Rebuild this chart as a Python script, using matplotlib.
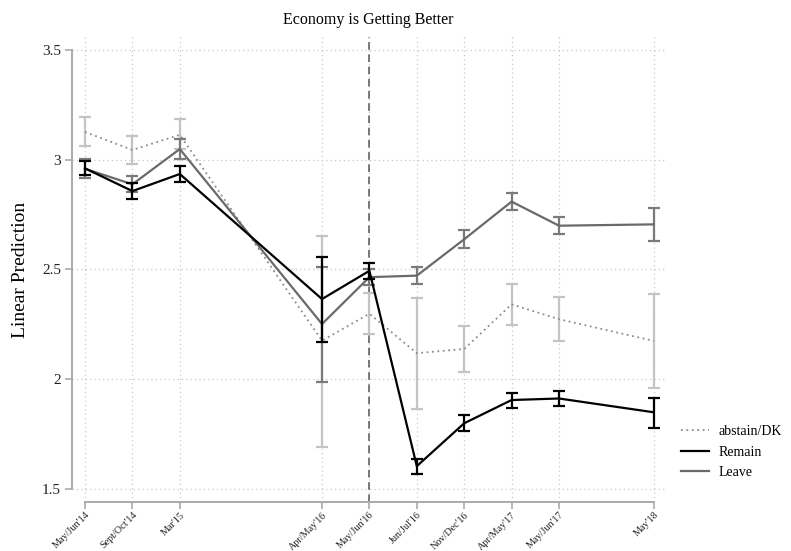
import matplotlib
matplotlib.use("Agg")
import matplotlib.pyplot as plt
import numpy as np

plt.rcParams['font.family'] = ['Liberation Serif', 'DejaVu Serif']

waves = [2, 3, 4, 7, 8, 9, 10, 11, 12, 14]
tick_labels = ["May/Jun'14", "Sept/Oct'14", "Mar'15", "Apr/May'16", "May/Jun'16",
               "Jun/Jul'16", "Nov/Dec'16", "Apr/May'17", "May/Jun'17", "May'18"]

abstain = [3.128, 3.046, 3.115, 2.175, 2.298, 2.118, 2.137, 2.341, 2.273, 2.174]
abstain_lo = [3.064, 2.980, 3.050, 1.689, 2.205, 1.864, 2.032, 2.247, 2.172, 1.960]
abstain_hi = [3.195, 3.110, 3.187, 2.653, 2.394, 2.371, 2.242, 2.434, 2.373, 2.387]

remain = [2.962, 2.858, 2.936, 2.365, 2.494, 1.602, 1.798, 1.904, 1.911, 1.848]
remain_lo = [2.930, 2.822, 2.900, 2.170, 2.458, 1.566, 1.764, 1.866, 1.877, 1.778]
remain_hi = [2.994, 2.894, 2.974, 2.558, 2.531, 1.636, 1.834, 1.937, 1.944, 1.915]

leave = [2.960, 2.889, 3.050, 2.251, 2.465, 2.472, 2.638, 2.810, 2.700, 2.706]
leave_lo = [2.920, 2.854, 3.006, 1.988, 2.430, 2.435, 2.597, 2.770, 2.662, 2.631]
leave_hi = [3.003, 2.927, 3.094, 2.510, 2.500, 2.511, 2.680, 2.849, 2.738, 2.782]

W, H = 791, 551
fig = plt.figure(figsize=(W / 100, H / 100), dpi=100)
ax = fig.add_axes([72 / W, 1 - 502 / H, (665 - 72) / W, (502 - 37) / H])

x = np.array(waves)

def draw(vals, lo, hi, color, ecolor, ls, lw, label, z):
    vals = np.array(vals); lo = np.array(lo); hi = np.array(hi)
    ax.errorbar(x, vals, yerr=[vals - lo, hi - vals], fmt='none', ecolor=ecolor,
                elinewidth=1.6, capsize=4, capthick=1.6, zorder=z)
    ax.plot(x, vals, color=color, ls=ls, lw=lw, label=label, zorder=z + 0.5)

draw(abstain, abstain_lo, abstain_hi, '#8c8c8c', '#c4c4c4', (0, (1, 2)), 1.3, 'abstain/DK', 2)
draw(leave, leave_lo, leave_hi, '#6a6a6a', '#7a7a7a', '-', 1.6, 'Leave', 3)
draw(remain, remain_lo, remain_hi, '#000000', '#000000', '-', 1.6, 'Remain', 4)

ax.axvline(8, color='#555555', ls=(0, (5, 3)), lw=1.1, zorder=1)

ax.set_xlim(1.726, 14.236)
ax.set_ylim(1.4384, 3.5616)
ax.set_yticks([1.5, 2, 2.5, 3, 3.5])
ax.set_yticklabels(['1.5', '2', '2.5', '3', '3.5'], fontsize=11)
ax.set_xticks(waves)
ax.set_xticklabels(tick_labels, rotation=45, ha='right', rotation_mode='anchor', fontsize=7.3)

ax.grid(True, color='#c8c8c8', ls=(0, (1, 2.5)), lw=0.9)
ax.set_axisbelow(True)

for s in ['top', 'right']:
    ax.spines[s].set_visible(False)
ax.spines['left'].set_bounds(1.5, 3.5)
ax.spines['bottom'].set_bounds(2, 14)
for s in ['left', 'bottom']:
    ax.spines[s].set_color('#aaaaaa')
    ax.spines[s].set_linewidth(1.4)
ax.tick_params(axis='y', color='#aaaaaa', width=1.2, length=5, pad=3, labelcolor='#222222')
ax.tick_params(axis='x', color='#aaaaaa', width=1.2, length=5, pad=1, labelcolor='#222222')

ax.set_ylabel('Linear Prediction', fontsize=14, labelpad=9)
ax.set_title('Economy is Getting Better', fontsize=11.5, pad=9)

handles, labels = ax.get_legend_handles_labels()
order = [labels.index(l) for l in ['abstain/DK', 'Remain', 'Leave']]
leg = fig.legend([handles[i] for i in order], [labels[i] for i in order],
                 loc='upper left', bbox_to_anchor=(681 / W, 1 - 425 / H), frameon=False,
                 fontsize=10, handlelength=2.0, labelspacing=0.55, handletextpad=0.7,
                 borderaxespad=0, borderpad=0)

fig.savefig('out.png', dpi=100)
